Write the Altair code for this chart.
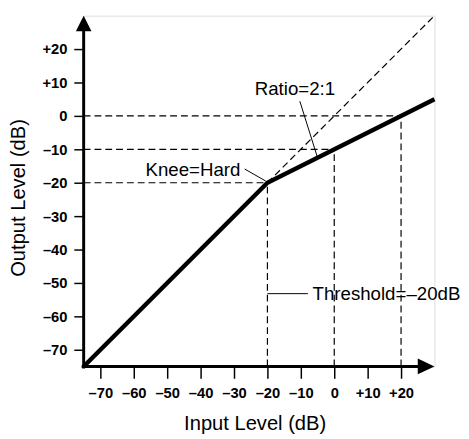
import altair as alt
import pandas as pd

# ---- data ----
tick_values = [-70, -60, -50, -40, -30, -20, -10, 0, 10, 20]

curve_input = [-75, -20, 30]
curve_output = [-75, -20, 5]

unity_input = [-20, 30]
unity_output = [-20, 30]

guide_x1 = [-75, -75, -75, -20, 0, 20]
guide_y1 = [0, -10, -20, -75, -75, -75]
guide_x2 = [20, 0, -20, -20, 0, 20]
guide_y2 = [0, -10, -20, -20, -10, 0]

annotation_text = ["Knee=Hard", "Ratio=2:1", "Threshold=\u201320dB"]
annotation_x = [-56.5, -23.8, -6.5]
annotation_y = [-18.1, 6.3, -55.2]

leader_x1 = [-26.8, -10.3, -20.0]
leader_y1 = [-15.9, 4.4, -53.2]
leader_x2 = [-20.5, -5.0, -7.9]
leader_y2 = [-19.5, -12.5, -53.2]

axis_x1 = [-75.6, -75]
axis_y1 = [-75, -75.6]
axis_x2 = [26, -75]
axis_y2 = [-75, 26]

arrow_x = [30]
arrow_y = [30]
origin = [-75]

FONT = "Liberation Sans"
LABEL_EXPR = ("datum.value > 0 ? '+' + datum.value : "
              "(datum.value < 0 ? '\u2013' + abs(datum.value) : '0')")

xscale = alt.Scale(domain=[-75, 30], nice=False, zero=False)
yscale = alt.Scale(domain=[-75, 30], nice=False, zero=False)

x_axis = alt.Axis(values=tick_values, labelExpr=LABEL_EXPR, domain=False, grid=False,
                  tickSize=12, tickWidth=1.5, tickColor="black",
                  labelFont=FONT, labelFontSize=15, labelFontWeight="bold",
                  labelColor="black", labelPadding=8, labelBaseline="top",
                  labelOverlap=False,
                  title="Input Level (dB)", titleFont=FONT, titleFontSize=20.5,
                  titleFontWeight="normal", titleColor="black",
                  titleX=174, titleY=64, titleAlign="center", titleBaseline="alphabetic")
y_axis = alt.Axis(values=tick_values, labelExpr=LABEL_EXPR, domain=False, grid=False,
                  tickSize=10, tickWidth=1.5, tickColor="black",
                  labelFont=FONT, labelFontSize=15, labelFontWeight="bold",
                  labelColor="black", labelPadding=7, labelOverlap=False,
                  title="Output Level (dB)", titleFont=FONT, titleFontSize=20.5,
                  titleFontWeight="normal", titleColor="black",
                  titleX=-66, titleY=185, titleAngle=270,
                  titleAlign="center", titleBaseline="middle")

X = alt.X("x:Q", scale=xscale, axis=x_axis)
Y = alt.Y("y:Q", scale=yscale, axis=y_axis)

curve_df = pd.DataFrame({"x": curve_input, "y": curve_output})
unity_df = pd.DataFrame({"x": unity_input, "y": unity_output})
guide_df = pd.DataFrame({"x": guide_x1, "y": guide_y1, "x2": guide_x2, "y2": guide_y2})
leader_df = pd.DataFrame({"x": leader_x1, "y": leader_y1, "x2": leader_x2, "y2": leader_y2})
axis_df = pd.DataFrame({"x": axis_x1, "y": axis_y1, "x2": axis_x2, "y2": axis_y2})
ann_df = pd.DataFrame({"x": annotation_x, "y": annotation_y, "t": annotation_text})
xarrow_df = pd.DataFrame({"x": arrow_x, "y": origin})
yarrow_df = pd.DataFrame({"x": origin, "y": arrow_y})

curve = alt.Chart(curve_df).mark_line(color="black", strokeWidth=4.5).encode(x=X, y=Y)

unity = alt.Chart(unity_df).mark_line(color="black", strokeWidth=1.2, strokeDash=[7, 4]).encode(x=X, y=Y)

guides = alt.Chart(guide_df).mark_rule(color="black", strokeWidth=1.2, strokeDash=[7, 4]).encode(
    x=X, y=Y, x2="x2:Q", y2="y2:Q")

leaders = alt.Chart(leader_df).mark_rule(color="black", strokeWidth=1).encode(
    x=X, y=Y, x2="x2:Q", y2="y2:Q")

axes_lines = alt.Chart(axis_df).mark_rule(color="black", strokeWidth=3).encode(
    x=X, y=Y, x2="x2:Q", y2="y2:Q")

xarrow = alt.Chart(xarrow_df).mark_point(
    shape="M 0 0 L -1 -0.47 L -1 0.47 Z", filled=True, size=1156,
    color="black", opacity=1, strokeWidth=0).encode(x=X, y=Y)

yarrow = alt.Chart(yarrow_df).mark_point(
    shape="M 0 0 L -0.5 1 L 0.5 1 Z", filled=True, size=1000,
    color="black", opacity=1, strokeWidth=0).encode(x=X, y=Y)

texts = alt.Chart(ann_df).mark_text(
    font=FONT, fontSize=19, color="black", align="left", baseline="alphabetic").encode(
    x=X, y=Y, text="t:N")

chart = alt.layer(guides, unity, leaders, axes_lines, curve, xarrow, yarrow, texts).properties(
    width=357, height=357,
    autosize=alt.AutoSizeParams(type="none"),
    padding={"left": 77, "top": 4, "right": 27, "bottom": 70},
).configure_view(stroke=None).configure(background="white")

chart.save("out.html", embed_options={"renderer": "svg", "actions": False})
